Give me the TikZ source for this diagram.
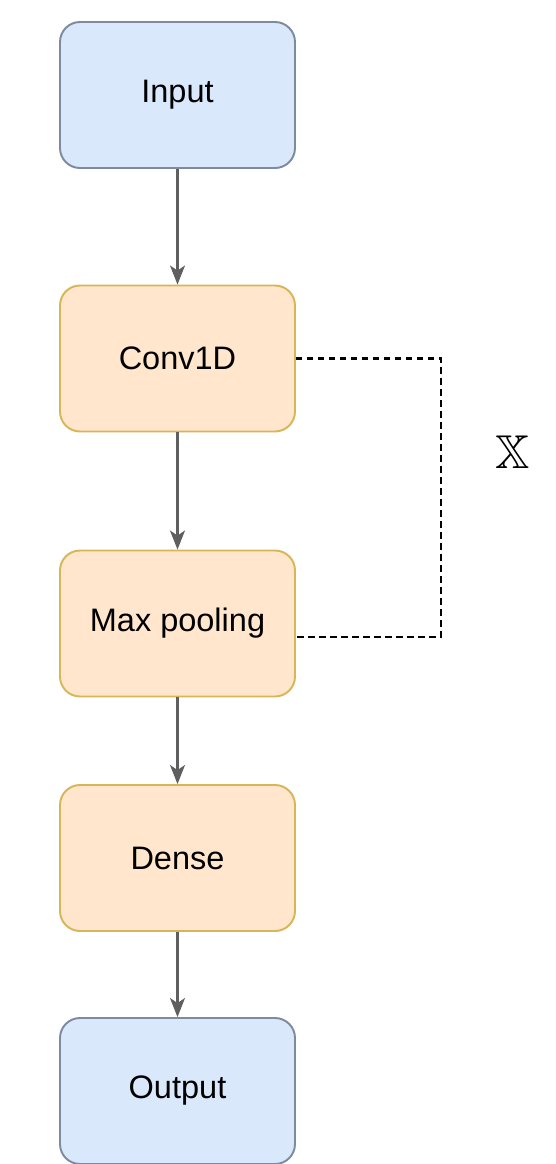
\documentclass[tikz,border=0pt]{standalone}
\usepackage{fontspec}
\usepackage{amssymb}
\setmainfont{Liberation Sans}
\usetikzlibrary{arrows.meta}

\definecolor{ioFill}{HTML}{DAE8FC}
\definecolor{ioLine}{HTML}{7D8AA0}
\definecolor{layFill}{HTML}{FFE6CC}
\definecolor{layLine}{HTML}{D6B656}
\definecolor{arrGray}{HTML}{5F5F5F}

\begin{document}
\begin{tikzpicture}[
        box/.style={draw, rounded corners=0.4cm, line width=1.1pt, minimum width=4.7cm, minimum height=2.92cm, align=center, font=\fontsize{18.5}{22}\selectfont},
        io/.style={box, fill=ioFill, draw=ioLine},
        layer/.style={box, fill=layFill, draw=layLine},
        arr/.style={-{Stealth[width=0.3cm, length=0.38cm, inset=0.1cm]}, line width=1.3pt, draw=arrGray, fill=arrGray},
        skip/.style={draw=black, line width=1.4pt, dash pattern=on 0.13cm off 0.09cm}
    ]
        \useasboundingbox (0,0) rectangle (11.1,-23.28);

        % main stack
        \node[io] (input) at (3.55, -1.9) {Input};
        \node[layer] (conv) at (3.55, -7.17) {Conv1D};
        \node[layer] (pool) at (3.55, -12.47) {Max pooling};
        \node[layer] (dense) at (3.55, -17.16) {Dense};
        \node[io] (output) at (3.55, -21.82) {Output};

        \draw[arr] (input) -- (conv);
        \draw[arr] (conv) -- (pool);
        \draw[arr] (pool) -- (dense);
        \draw[arr] (dense) -- (output);

        % repeat block
        \coordinate (side) at (8.82, -12.74);
        \draw[skip] (conv.east) -| (side) -- (side -| pool.east);
        \node[font=\fontsize{27}{30}\selectfont, text=black] (rep) at (10.26, -9.04) {$\mathbb{X}$};
    \end{tikzpicture}
\end{document}
